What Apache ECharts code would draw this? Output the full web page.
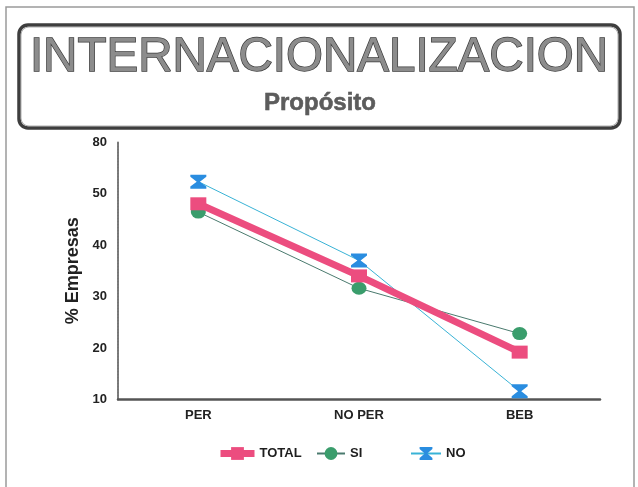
<!DOCTYPE html>
<html>
<head>
<meta charset="utf-8">
<script src="https://cdn.jsdelivr.net/npm/echarts@6/dist/echarts.min.js"></script>
<style>
  html, body { margin: 0; padding: 0; background: #fff; }
  #chart { width: 638px; height: 487px; }
</style>
</head>
<body>
<div id="chart"></div>
<script>
// Categories and series values (% of companies)
var categories = ['PER', 'NO PER', 'BEB'];
var totalValues = [48, 34, 19.2];
var siValues = [46.4, 31.6, 22.8];
var noValues = [52.3, 37, 11.6];
// Y tick labels as printed on the axis
var yTickLabels = { 10: '10', 20: '20', 30: '30', 40: '40', 50: '50', 60: '80' };

var FONT = '"Liberation Sans", Arial, sans-serif';
var hourglass = 'path://M0,0 L10,0 L10,1.5 L6,5 L10,8.5 L10,10 L0,10 L0,8.5 L4,5 L0,1.5 Z';

var chart = echarts.init(document.getElementById('chart'), null, { renderer: 'canvas' });

var legendText = { fontWeight: 'bold', fontSize: 13, color: '#1e1e1e', fontFamily: FONT };

var option = {
  backgroundColor: '#ffffff',
  animation: false,
  textStyle: { fontFamily: FONT },
  graphic: [
    // outer page frame
    { type: 'rect', shape: { x: 6, y: 7, width: 628, height: 500 },
      style: { fill: null, stroke: '#9a9a9a', lineWidth: 1.5 }, z: 0 },
    // title box
    { type: 'rect', shape: { x: 19, y: 25, width: 601, height: 103, r: 9 },
      style: { fill: '#ffffff', stroke: '#3e3e3e', lineWidth: 3.5 }, z: 1 },
    { type: 'rect', shape: { x: 21, y: 27, width: 597, height: 99, r: 8 },
      style: { fill: null, stroke: '#9a9a9a', lineWidth: 0.8 }, z: 1 },
    { type: 'text', x: 319, y: 58, scaleX: 0.99,
      style: { text: 'INTERNACIONALIZACION', font: '48px ' + FONT,
               fill: '#8c8c8c', stroke: '#3a3a3a', lineWidth: 1.4,
               textAlign: 'center', textVerticalAlign: 'middle' }, z: 2 },
    { type: 'text', x: 320, y: 103,
      style: { text: 'Propósito', font: 'bold 24px ' + FONT,
               fill: '#5c5c5c', stroke: '#444', lineWidth: 0.5,
               textAlign: 'center', textVerticalAlign: 'middle' }, z: 2 }
  ],
  legend: [
    { data: ['TOTAL'], left: 212, top: 442, itemWidth: 34, itemHeight: 16, itemGap: 6,
      lineStyle: { width: 7 }, textStyle: legendText },
    { data: ['SI'], left: 311, top: 442, itemWidth: 28, itemHeight: 16,
      textStyle: legendText },
    { data: ['NO'], left: 405, top: 442, itemWidth: 30, itemHeight: 16,
      textStyle: legendText }
  ],
  grid: { left: 118, right: 38, top: 142, bottom: 87.5, containLabel: false },
  xAxis: {
    type: 'category',
    data: categories,
    boundaryGap: true,
    axisLine: { lineStyle: { color: '#555', width: 2.5 } },
    axisTick: { show: false },
    axisLabel: { color: '#222', fontWeight: 'bold', fontSize: 13, margin: 9, fontFamily: FONT }
  },
  yAxis: {
    type: 'value',
    min: 10, max: 60, interval: 10,
    name: '% Empresas',
    nameLocation: 'middle',
    nameGap: 31,
    nameTextStyle: { fontWeight: 'bold', fontSize: 18, color: '#222', fontFamily: FONT },
    axisLine: { show: true, lineStyle: { color: '#777', width: 2, type: [2, 1] } },
    axisTick: { show: false },
    splitLine: { show: false },
    axisLabel: {
      color: '#222', fontWeight: 'bold', fontSize: 13, margin: 11, fontFamily: FONT,
      formatter: function (v) { return yTickLabels[v] !== undefined ? yTickLabels[v] : ''; }
    }
  },
  series: [
    {
      name: 'SI', type: 'line', data: siValues,
      symbol: 'circle', symbolSize: [15, 13],
      lineStyle: { color: '#4a7a6e', width: 1 },
      itemStyle: { color: '#3a9d6c' }, z: 2
    },
    {
      name: 'NO', type: 'line', data: noValues,
      symbol: hourglass, symbolSize: [16, 14],
      lineStyle: { color: '#39b3d6', width: 1 },
      itemStyle: { color: '#2a8de0' }, z: 3
    },
    {
      name: 'TOTAL', type: 'line', data: totalValues,
      symbol: 'rect', symbolSize: [16, 13],
      lineStyle: { color: '#ec4d7f', width: 7 },
      itemStyle: { color: '#ec4d7f' }, z: 4
    }
  ]
};

chart.setOption(option);
</script>
</body>
</html>
